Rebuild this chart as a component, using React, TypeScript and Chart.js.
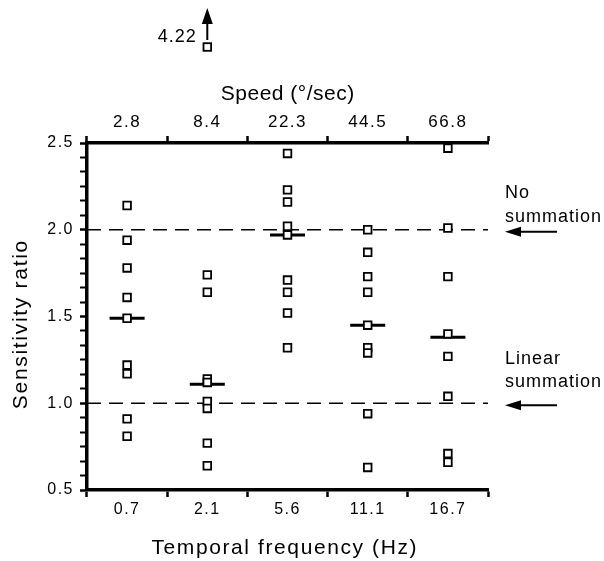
import { useEffect, useRef } from 'react';
import { Chart, registerables } from 'chart.js';

Chart.register(...registerables);

// ---- data ----
const freqLabels = ['0.7', '2.1', '5.6', '11.1', '16.7'];
const speedLabels = ['2.8', '8.4', '22.3', '44.5', '66.8'];
const yMajorTicks = [0.5, 1.0, 1.5, 2.0, 2.5];

const ratios07 = [2.14, 1.94, 1.78, 1.61, 1.49, 1.22, 1.17, 0.91, 0.81];
const ratios21 = [1.74, 1.64, 1.14, 1.12, 1.01, 0.97, 0.77, 0.64];
const ratios56 = [2.44, 2.23, 2.16, 2.02, 1.97, 1.71, 1.64, 1.52, 1.32];
const ratios111 = [2.0, 1.87, 1.73, 1.64, 1.45, 1.32, 1.29, 0.94, 0.63];
const ratios167 = [2.47, 2.01, 1.73, 1.4, 1.27, 1.04, 0.71, 0.66];
const medians = [1.49, 1.11, 1.97, 1.45, 1.38];

const offscaleCategory = '2.1';
const offscaleValue = '4.22';

const referenceLevels = [2.0, 1.0];
const referenceNotes = [
  ['No', 'summation'],
  ['Linear', 'summation'],
];

const xTitle = 'Temporal frequency (Hz)';
const x2Title = 'Speed (°/sec)';
const yTitle = 'Sensitivity ratio';

// ---- layout / style ----
const FONT = "'Liberation Sans', Arial, Helvetica, sans-serif";
const noteBaselineOffsets = [-10, -18];

const columns = [ratios07, ratios21, ratios56, ratios111, ratios167];
const points = columns.flatMap((vals, i) => vals.map((v) => ({ x: freqLabels[i], y: v })));
const medianPoints = medians.map((v, i) => ({ x: freqLabels[i], y: v }));

const isMajor = (v: number) => yMajorTicks.some((t) => Math.abs(t - v) < 1e-6);

function drawText(
  ctx: CanvasRenderingContext2D,
  str: string,
  x: number,
  y: number,
  size: number,
  spacing: number,
  align: CanvasTextAlign = 'center'
) {
  ctx.save();
  ctx.font = `${size}px ${FONT}`;
  (ctx as any).letterSpacing = `${spacing}px`;
  ctx.fillStyle = '#000';
  ctx.textAlign = align;
  ctx.textBaseline = 'alphabetic';
  const shift = align === 'center' ? spacing / 2 : align === 'right' ? -spacing : 0;
  ctx.fillText(str, x + shift, y);
  ctx.restore();
}

function drawArrow(
  ctx: CanvasRenderingContext2D,
  x1: number,
  y1: number,
  x2: number,
  y2: number,
  head: number,
  halfW: number
) {
  const ang = Math.atan2(y2 - y1, x2 - x1);
  const bx = x2 - Math.cos(ang) * head;
  const by = y2 - Math.sin(ang) * head;
  ctx.save();
  ctx.strokeStyle = '#000';
  ctx.fillStyle = '#000';
  ctx.lineWidth = 2;
  ctx.beginPath();
  ctx.moveTo(x1, y1);
  ctx.lineTo(bx, by);
  ctx.stroke();
  ctx.beginPath();
  ctx.moveTo(x2, y2);
  ctx.lineTo(bx + Math.sin(ang) * halfW, by - Math.cos(ang) * halfW);
  ctx.lineTo(bx - Math.sin(ang) * halfW, by + Math.cos(ang) * halfW);
  ctx.closePath();
  ctx.fill();
  ctx.restore();
}

const figurePlugin = {
  id: 'figureAnnotations',
  beforeDraw(chart: any) {
    chart.ctx.letterSpacing = '1.5px';
  },
  beforeDatasetsDraw(chart: any) {
    const { ctx, chartArea, scales } = chart;
    ctx.save();
    ctx.strokeStyle = '#000';
    ctx.lineWidth = 1.6;
    ctx.setLineDash([14, 8]);
    referenceLevels.forEach((lvl) => {
      const y = scales.y.getPixelForValue(lvl);
      ctx.beginPath();
      ctx.moveTo(chartArea.left, y);
      ctx.lineTo(chartArea.right, y);
      ctx.stroke();
    });
    ctx.restore();
  },
  afterDraw(chart: any) {
    const { ctx, chartArea, scales } = chart;
    const midX = (chartArea.left + chartArea.right) / 2;
    const midY = (chartArea.top + chartArea.bottom) / 2;

    // axis titles
    drawText(ctx, x2Title, midX, 100, 21, 0.5);
    drawText(ctx, xTitle, midX - 3.5, 554, 21, 1.6);
    ctx.save();
    ctx.translate(27, midY + 8.5);
    ctx.rotate(-Math.PI / 2);
    drawText(ctx, yTitle, 0, 0, 21, 1.7);
    ctx.restore();

    // reference notes + arrows on the right
    referenceLevels.forEach((lvl, i) => {
      const y = scales.y.getPixelForValue(lvl) + 2;
      const x0 = chartArea.right + 17;
      drawArrow(ctx, chartArea.right + 69, y, x0, y, 16, 5);
      const [l1, l2] = referenceNotes[i];
      const base = y + noteBaselineOffsets[i];
      drawText(ctx, l2, x0, base, 18, 1, 'left');
      drawText(ctx, l1, x0, base - 23.5, 18, 1, 'left');
    });

    // off-scale point
    const cx = scales.x.getPixelForValue(freqLabels.indexOf(offscaleCategory));
    ctx.save();
    ctx.fillStyle = '#fff';
    ctx.strokeStyle = '#000';
    ctx.lineWidth = 1.8;
    ctx.fillRect(cx - 3.8, 47 - 3.8, 7.6, 7.6);
    ctx.strokeRect(cx - 3.8, 47 - 3.8, 7.6, 7.6);
    ctx.restore();
    drawArrow(ctx, cx, 40, cx, 8, 16, 5.5);
    drawText(ctx, offscaleValue, cx - 9.5, 42, 18, 1, 'right');

    ctx.letterSpacing = '0px';
  },
};

export default function App() {
  const ref = useRef<HTMLCanvasElement | null>(null);

  useEffect(() => {
    const canvas = ref.current;
    if (!canvas) return;
    const axisGrid = {
      drawOnChartArea: false,
      drawTicks: true,
      tickLength: 7,
      tickWidth: 2.5,
      tickColor: '#000',
      color: '#000',
      offset: true,
    };
    const axisBorder = { display: true, color: '#000', width: 3.5 };

    const chart = new Chart(canvas, {
      type: 'line',
      data: {
        labels: freqLabels,
        datasets: [
          {
            label: 'Sensitivity ratio',
            data: points as any,
            showLine: false,
            pointStyle: 'rect',
            pointRadius: 5.4,
            pointHoverRadius: 5.4,
            pointBackgroundColor: '#fff',
            pointBorderColor: '#000',
            pointBorderWidth: 1.8,
            clip: false as any,
          },
          {
            label: 'Median',
            data: medianPoints as any,
            showLine: false,
            pointStyle: 'line',
            pointRadius: 17.5,
            pointHoverRadius: 17.5,
            pointBorderColor: '#000',
            pointBorderWidth: 3,
            clip: false as any,
          },
        ],
      },
      options: {
        responsive: false,
        animation: false,
        events: [],
        layout: { padding: { left: 0, right: 116, top: 0, bottom: 0 } },
        plugins: { legend: { display: false }, tooltip: { enabled: false } },
        scales: {
          x: {
            type: 'category',
            position: 'bottom',
            offset: true,
            grid: axisGrid,
            border: axisBorder,
            ticks: {
              color: '#000',
              font: { family: FONT, size: 16 },
              padding: 3,
              maxRotation: 0,
              autoSkip: false,
            },
            afterFit: (s: any) => {
              s.height = 71;
            },
          },
          x2: {
            type: 'category',
            labels: speedLabels,
            position: 'top',
            offset: true,
            grid: axisGrid,
            border: axisBorder,
            ticks: {
              color: '#000',
              font: { family: FONT, size: 17 },
              padding: 3,
              maxRotation: 0,
              autoSkip: false,
            },
            afterFit: (s: any) => {
              s.height = 143;
            },
          },
          y: {
            type: 'linear',
            position: 'left',
            min: 0.5,
            max: 2.5,
            grid: {
              drawOnChartArea: false,
              drawTicks: true,
              tickLength: 7,
              tickColor: '#000',
              color: '#000',
              tickWidth: (c: any) => (c.tick && isMajor(c.tick.value) ? 2.5 : 2),
            },
            border: axisBorder,
            ticks: {
              count: 25,
              autoSkip: false,
              color: '#000',
              font: { family: FONT, size: 16 },
              padding: 6,
              callback: (v: any) => (isMajor(Number(v)) ? Number(v).toFixed(1) : ''),
            },
            afterFit: (s: any) => {
              s.width = 87;
            },
          },
        } as any,
      },
      plugins: [figurePlugin as any],
    });
    return () => chart.destroy();
  }, []);

  return (
    <div style={{ position: 'absolute', left: 0, top: 0, width: 604, height: 561, background: '#fff' }}>
      <canvas ref={ref} width={604} height={561} style={{ display: 'block' }} />
    </div>
  );
}
